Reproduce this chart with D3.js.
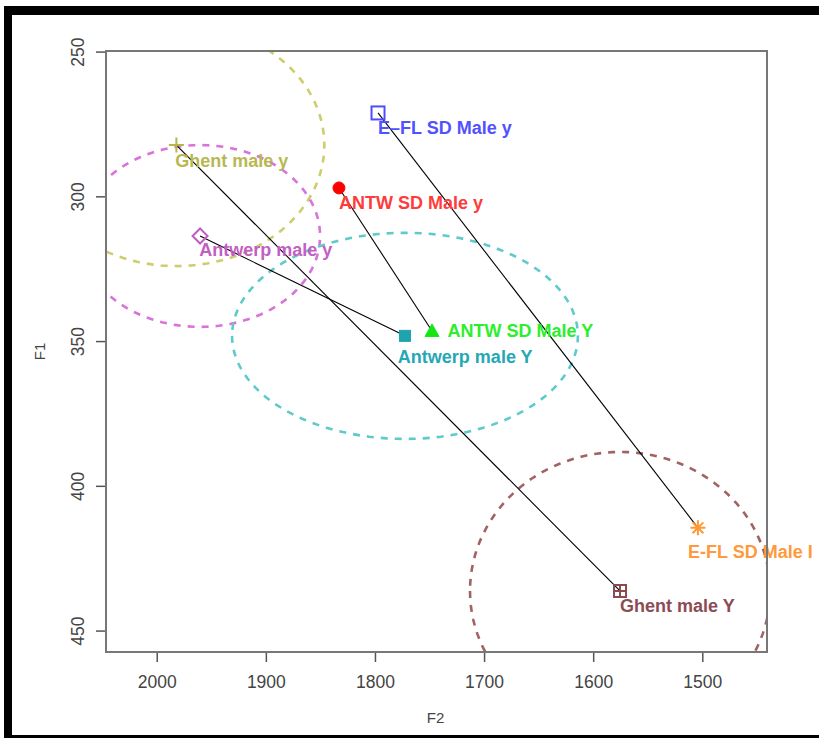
<!DOCTYPE html>
<html><head><meta charset="utf-8">
<script src="https://cdn.jsdelivr.net/npm/d3@7"></script>
<style>html,body{margin:0;padding:0;background:#fff;}svg{display:block;}</style>
</head><body>
<script>
// ---- data ----
const labels = ["Ghent male y","Antwerp male y","ANTW SD Male y","E–FL SD Male y","Antwerp male Y","ANTW SD Male Y","E-FL SD Male I","Ghent male Y"];
const F2 = [1982, 1960.3, 1833, 1797.2, 1772.5, 1747.7, 1504, 1575.4];
const F1 = [282.3, 313.7, 297.1, 271.2, 348.2, 346.5, 414.5, 436.3];
const symbols = ["plus","diamond","circleFill","square","squareFill","triangleFill","asterisk","squarePlus"];
const colors = ["#B5B548","#C25CC2","#FF0000","#4D4DFF","#1FA3AF","#14E614","#FF9933","#8A4A52"];
const textColors = ["#B8B852","#C35FC3","#FF3B3B","#5151FF","#26A8B4","#2BEF2B","#FF9A3C","#8C4C54"];
// label anchor (data coords)
const labelF2 = [1983, 1961, 1833, 1797.2, 1779, 1733.5, 1513, 1575.4];
const labelF1 = [287.5, 318.5, 302.3, 276.4, 355.4, 346.2, 422.8, 441.2];
// connecting segments (from index -> to index)
const segFrom = [0, 1, 2, 3];
const segTo   = [7, 4, 5, 6];
// ellipses (group spread)
const ellCenterIdx = [0, 1, 4, 7];
const ellRF2 = [135.6, 110, 158.5, 137.5];
const ellRF1 = [41.8, 31.4, 35.6, 48];
const ellColors = ["#CDCD6E","#DA72DA","#5FCACA","#A36262"];
const xTicks = [2000, 1900, 1800, 1700, 1600, 1500];
const yTicks = [250, 300, 350, 400, 450];

// ---- layout ----
const W = 819, H = 738;
const L = 106, R = 767, T = 51, B = 652;
const svg = d3.select("body").append("svg").attr("width", W).attr("height", H);
svg.append("rect").attr("width", W).attr("height", H).attr("fill", "#fff");

const x = d3.scaleLinear().domain([2046.5, 1440.7]).range([L, R]);
const y = d3.scaleLinear().domain([249.8, 457.4]).range([T, B]);

svg.append("defs").append("clipPath").attr("id","plotclip")
  .append("rect").attr("x", L).attr("y", T).attr("width", R-L).attr("height", B-T);

// ellipses
const gE = svg.append("g").attr("clip-path","url(#plotclip)");
ellCenterIdx.forEach((ci, k) => {
  const pts = d3.range(0, 361, 3).map(a => {
    const t = a * Math.PI / 180;
    return [x(F2[ci] + ellRF2[k]*Math.cos(t)), y(F1[ci] + ellRF1[k]*Math.sin(t))];
  });
  gE.append("path").attr("d", d3.line()(pts)).attr("fill","none")
    .attr("stroke", ellColors[k]).attr("stroke-width", 2.6)
    .attr("stroke-dasharray","7,7");
});

// segments
const gS = svg.append("g");
segFrom.forEach((f, i) => {
  const t = segTo[i];
  gS.append("line").attr("x1", x(F2[f])).attr("y1", y(F1[f]))
    .attr("x2", x(F2[t])).attr("y2", y(F1[t]))
    .attr("stroke","#000").attr("stroke-width",1.1);
});

// points
const gP = svg.append("g");
function drawSym(g, type, cx, cy, col) {
  const s = 7.5;
  const st = {stroke: col, "stroke-width": 2, fill: "none"};
  const add = (tag, attrs, style) => {
    const e = g.append(tag);
    Object.entries(attrs).forEach(([k,v]) => e.attr(k, v));
    Object.entries(style).forEach(([k,v]) => e.attr(k, v));
    return e;
  };
  if (type === "plus") {
    add("path", {d:`M${cx-s},${cy}H${cx+s}M${cx},${cy-s}V${cy+s}`}, st);
  } else if (type === "diamond") {
    add("path", {d:`M${cx},${cy-s}L${cx+s},${cy}L${cx},${cy+s}L${cx-s},${cy}Z`}, st);
  } else if (type === "circleFill") {
    add("circle", {cx, cy, r: 6}, {fill: col, stroke: col, "stroke-width": 1});
  } else if (type === "square") {
    add("rect", {x: cx-6.5, y: cy-6.5, width: 13, height: 13}, st);
  } else if (type === "squareFill") {
    add("rect", {x: cx-5.5, y: cy-5.5, width: 11, height: 11}, {fill: col, stroke: col, "stroke-width": 1});
  } else if (type === "triangleFill") {
    add("path", {d:`M${cx},${cy-7}L${cx+7},${cy+5.5}L${cx-7},${cy+5.5}Z`}, {fill: col, stroke: col, "stroke-width": 1});
  } else if (type === "asterisk") {
    const d = s*0.72;
    add("path", {d:`M${cx-s},${cy}H${cx+s}M${cx},${cy-s}V${cy+s}M${cx-d},${cy-d}L${cx+d},${cy+d}M${cx-d},${cy+d}L${cx+d},${cy-d}`}, st);
  } else if (type === "squarePlus") {
    add("path", {d:`M${cx-6},${cy-6}h12v12h-12zM${cx-6},${cy}H${cx+6}M${cx},${cy-6}V${cy+6}`}, st);
  }
}
labels.forEach((lab, i) => drawSym(gP, symbols[i], x(F2[i]), y(F1[i]), colors[i]));

// point labels
const gL = svg.append("g");
labels.forEach((lab, i) => {
  gL.append("text").attr("x", x(labelF2[i])).attr("y", y(labelF1[i]))
    .attr("dy","0.36em")
    .attr("font-family","'Liberation Sans', Arial, sans-serif")
    .attr("font-weight","bold").attr("font-size", 18)
    .attr("fill", textColors[i])
    .text(lab);
});

// axes
const axCol = "#555";
const xa = svg.append("g").attr("transform",`translate(0,${B})`)
  .call(d3.axisBottom(x).tickValues(xTicks).tickSize(10).tickPadding(14).tickFormat(d3.format("d")));
xa.select(".domain").remove();
xa.selectAll("line").attr("stroke", axCol).attr("stroke-width", 1.5);
xa.selectAll("text").attr("font-family","'Liberation Sans', Arial, sans-serif")
  .attr("font-size", 17.5).attr("fill","#444");

const ya = svg.append("g").attr("transform",`translate(${L},0)`)
  .call(d3.axisLeft(y).tickValues(yTicks).tickSize(10).tickFormat(d3.format("d")));
ya.select(".domain").remove();
ya.selectAll("line").attr("stroke", axCol).attr("stroke-width", 1.5);
ya.selectAll("text").attr("font-family","'Liberation Sans', Arial, sans-serif")
  .attr("font-size", 17.5).attr("fill","#444")
  .attr("text-anchor","middle").attr("x", null).attr("dy", null)
  .attr("transform","translate(-28,0) rotate(-90)").attr("dy","0.36em");

// box
svg.append("rect").attr("x", L).attr("y", T).attr("width", R-L).attr("height", B-T)
  .attr("fill","none").attr("stroke","#777").attr("stroke-width", 2);

// axis titles
svg.append("text").attr("x", (L+R)/2 - 1).attr("y", 718).attr("dy","0.36em")
  .attr("text-anchor","middle").attr("font-family","'Liberation Sans', Arial, sans-serif")
  .attr("font-size", 15).attr("fill","#444").text("F2");
svg.append("text").attr("transform",`translate(40,${(T+B)/2}) rotate(-90)`).attr("dy","0.36em")
  .attr("text-anchor","middle").attr("font-family","'Liberation Sans', Arial, sans-serif")
  .attr("font-size", 15).attr("fill","#444").text("F1");

// outer frame
svg.append("rect").attr("x", 5).attr("y", 6).attr("width", W-5).attr("height", 9).attr("fill","#000");
svg.append("rect").attr("x", 4).attr("y", 6).attr("width", 8).attr("height", H-6).attr("fill","#000");
svg.append("rect").attr("x", 4).attr("y", H-3).attr("width", W-4).attr("height", 3).attr("fill","#000");
</script>
</body></html>
